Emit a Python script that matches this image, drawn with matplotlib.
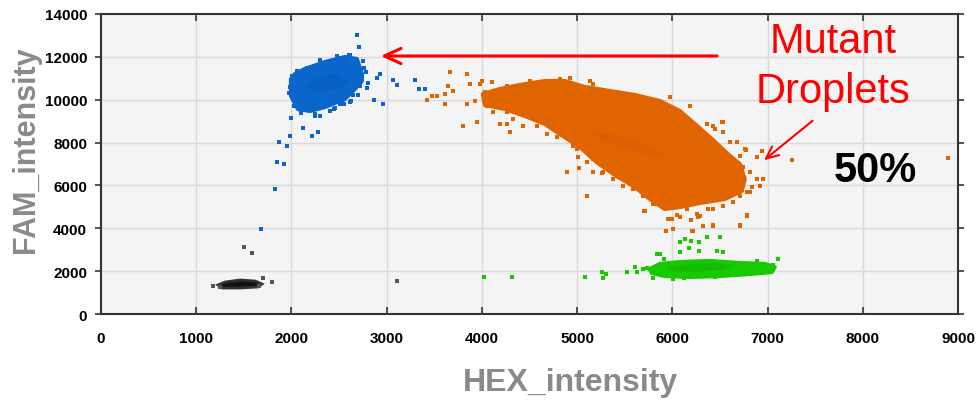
import matplotlib.pyplot as plt

# Droplet clusters (HEX_intensity, FAM_intensity).
# Dense cores are given as outlines, loose droplets as single points.
blue_core_x = [1995, 1995, 2068, 2194, 2351, 2561, 2666, 2740, 2740, 2687, 2561, 2351, 2141, 2036]
blue_core_y = [10967, 10173, 9567, 9473, 9660, 10033, 10500, 10873, 11200, 11900, 11993, 11760, 11433, 11200]
blue_dark_x = [2150, 2300, 2500, 2600, 2450, 2250]
blue_dark_y = [10600, 10350, 10500, 10900, 11250, 11000]
blue_x = [1995, 2120, 2215, 2278, 1984, 1869, 1953, 1848, 1921, 1827, 2247, 2299, 2687, 2708,
          2614, 2750, 2897, 2929, 3065, 3107, 3296, 3338, 3401, 2866, 2960, 2792, 2698, 2614,
          2509, 2456, 2005, 1680, 2030, 2100, 2400, 2550, 2650, 2720, 2760, 1980, 1975, 2060,
          2160, 2300, 2480, 2600, 2780, 2800, 2620, 2450, 2250]
blue_y = [9147, 8680, 8307, 8493, 8307, 8027, 7840, 7093, 7000, 5833, 9240, 9240, 13020, 12460,
          12087, 11807, 11013, 11200, 10920, 10687, 10920, 10500, 10500, 9987, 9800, 10547, 10220,
          9893, 9800, 9613, 11107, 3967, 9700, 9400, 9450, 9800, 10200, 10650, 11500, 10600, 10300,
          11350, 11500, 11850, 12050, 12100, 11300, 10800, 9950, 9550, 9350]

orange_core_x = [4010, 4189, 4399, 4661, 4871, 5081, 5343, 5606, 5868, 6078, 6236, 6414, 6582,
                 6708, 6760, 6729, 6551, 6288, 6078, 5921, 5763, 5606, 5396, 5217, 5028, 4818,
                 4661, 4451, 4241, 4031]
orange_core_y = [10267, 10500, 10687, 10873, 10873, 10593, 10407, 10220, 9940, 9473, 8867, 8167,
                 7467, 7000, 6300, 5740, 5367, 5180, 4993, 4900, 5367, 5927, 6487, 7047, 7793,
                 8400, 8867, 9240, 9567, 9753]
orange_dark_x = [5150, 5450, 5750, 5950, 5800, 5500, 5250]
orange_dark_y = [8500, 8300, 7850, 7400, 7350, 7750, 8100]
orange_x = [3664, 3842, 3643, 3695, 3611, 3422, 3475, 3527, 3611, 3800, 3947, 3874, 3979, 4105,
            4000, 4189, 4262, 4294, 3842, 3926, 4892, 5018, 5165, 5259, 5102, 6939, 6886, 6886,
            6949, 6918, 6771, 6677, 6530, 6362, 6183, 6446, 5711, 5931, 6708, 6781, 6813, 6425,
            6320, 6267, 6078, 5994, 5816, 7254, 8891, 6215, 6005, 5700, 6204, 6425, 6708, 6781,
            5952, 6047, 6194, 6288, 6372, 4031, 4084, 4157, 4189, 4262, 4325, 4399, 4503, 4577,
            4640, 4734, 4818, 4923, 5133, 5165, 4052, 4115, 4262, 4325, 4430, 4577, 4682, 4787,
            4892, 4955, 4997, 5007, 5112, 5165, 5973, 5847, 6425, 6519, 6530, 6603, 6761, 6708,
            6740, 6813, 6834, 6781, 6708, 6635, 6530, 6425, 6257, 6152, 6047, 5942, 5795, 5690,
            5585, 5480, 5375, 5270, 5102]
orange_y = [11293, 11200, 10640, 10407, 10267, 9987, 10173, 10173, 9800, 8773, 8960, 10733, 10733,
            10827, 10873, 8867, 8867, 8493, 9800, 9940, 6627, 6813, 6627, 6580, 5507, 7607, 7327,
            6300, 6300, 5973, 7653, 8027, 8960, 8867, 9707, 8633, 4807, 3873, 4107, 4573, 5693,
            4107, 4107, 4527, 4527, 4433, 5133, 7187, 7280, 3873, 3967, 4807, 3873, 4153, 4153,
            4620, 4433, 4620, 4387, 4573, 4900, 10360, 10173, 10033, 10267, 10640, 10360, 10593,
            10873, 10640, 10733, 10827, 10967, 11013, 10873, 10733, 9707, 9427, 9427, 9100, 8773,
            8773, 8400, 8260, 8213, 7840, 7700, 7327, 7560, 7233, 10127, 9567, 8773, 8960, 8493,
            8027, 7700, 7373, 6860, 6627, 5927, 5693, 5507, 5227, 5040, 4900, 4667, 4900, 5040,
            5227, 5133, 5507, 5833, 5973, 6300, 6627, 7093]

green_core_x = [5763, 5868, 6078, 6393, 6708, 6970, 7075, 7044, 6813, 6498, 6183, 5921, 5784]
green_core_y = [2100, 2333, 2427, 2473, 2380, 2333, 2193, 1960, 1867, 1773, 1727, 1773, 1913]
green_dark_x = [5950, 6150, 6450, 6650, 6500, 6200, 6000]
green_dark_y = [2150, 2330, 2380, 2250, 2050, 1950, 2000]
green_x = [4314, 5081, 5259, 5270, 5301, 5522, 5606, 5627, 5690, 5732, 5795, 5837, 5868, 5910,
           6078, 6131, 6194, 6278, 6362, 6498, 6078, 6173, 6278, 6467, 6530, 6005, 6120, 6446,
           6687, 6886, 6918, 6991, 7054, 7107, 6949, 4021]
green_y = [1727, 1727, 1960, 1680, 1867, 1960, 2193, 1960, 2100, 2147, 1680, 2800, 2800, 2567,
           3360, 3500, 3407, 3360, 3593, 3593, 2893, 3080, 2940, 2940, 2893, 1633, 1680, 1727,
           1820, 2473, 2193, 2193, 2287, 2567, 2007, 1727]

black_core_x = [1228, 1302, 1459, 1617, 1690, 1648, 1459, 1270]
black_core_y = [1353, 1493, 1587, 1540, 1400, 1260, 1213, 1213]
black_x = [1176, 1700, 1795, 1501, 1585, 3107, 1250, 1660]
black_y = [1307, 1680, 1493, 3127, 2847, 1540, 1280, 1330]

x_ticks = [0, 1000, 2000, 3000, 4000, 5000, 6000, 7000, 8000, 9000]
y_ticks = [0, 2000, 4000, 6000, 8000, 10000, 12000, 14000]

fig = plt.figure(figsize=(9.77, 4.02), dpi=100)
ax = fig.add_axes([0.1034, 0.2164, 0.8772, 0.7463])
ax.set_facecolor('#f4f4f4')

groups = [
    (blue_core_x, blue_core_y, blue_dark_x, blue_dark_y, blue_x, blue_y, '#0a66cc', '#0052a8'),
    (orange_core_x, orange_core_y, orange_dark_x, orange_dark_y, orange_x, orange_y, '#e06400', '#c85800'),
    (green_core_x, green_core_y, green_dark_x, green_dark_y, green_x, green_y, '#18c800', '#0e9e00'),
]
for cx, cy, dx, dy, px, py, col, dark in groups:
    ax.fill(cx, cy, color=col, lw=3, joinstyle='round', zorder=3)
    ax.fill(dx, dy, color=dark, lw=0, alpha=0.25, zorder=3)
    ax.scatter(px, py, s=7, marker='s', color=col, linewidths=0, zorder=4)

ax.fill(black_core_x, black_core_y, color='#111111', lw=2, ec='#333333', zorder=3)
ax.scatter(black_x, black_y, s=7, marker='s', color='#555555', linewidths=0, zorder=4)

ax.set_xlim(0, 9000)
ax.set_ylim(0, 14000)
ax.set_xticks(x_ticks)
ax.set_yticks(y_ticks)
ax.grid(color='#d9d9d9', lw=1)
ax.set_axisbelow(True)
for sp in ax.spines.values():
    sp.set_color('#333333')
    sp.set_linewidth(1.5)

ax.tick_params(axis='x', direction='in', length=5, width=1.2, color='#333333', top=True, pad=12)
ax.tick_params(axis='y', direction='out', length=4, width=1.2, color='#333333', right=True, pad=6)
for lab in ax.get_xticklabels() + ax.get_yticklabels():
    lab.set_fontfamily('Liberation Sans')
    lab.set_fontweight('bold')
    lab.set_fontsize(11)

ax.set_xlabel('HEX_intensity', family=['Liberation Sans Narrow', 'Liberation Sans'],
              fontweight='bold', fontsize=23, color='#8a8a8a')
ax.xaxis.set_label_coords(0.548, -0.175)
ax.set_ylabel('FAM_intensity', family=['Liberation Sans Narrow', 'Liberation Sans'],
              fontweight='bold', fontsize=22, color='#8a8a8a')
ax.yaxis.set_label_coords(-0.07, 0.55)

# annotations
ax.annotate('', xy=(2908, 12040), xytext=(6498, 12040),
            arrowprops=dict(arrowstyle='->,head_length=1.2,head_width=0.55', color='#ff0000', lw=2.2),
            zorder=6)
ax.annotate('', xy=(6939, 7093), xytext=(7495, 9100),
            arrowprops=dict(arrowstyle='->,head_length=0.9,head_width=0.4', color='#ff0000', lw=1.5),
            zorder=6)
ax.text(7684, 12227, 'Mutant', color='#ff0000', fontsize=30, family='Liberation Sans',
        ha='center', va='baseline', zorder=6)
ax.text(7684, 9893, 'Droplets', color='#ff0000', fontsize=30, family='Liberation Sans',
        ha='center', va='baseline', zorder=6)
ax.text(8136, 6207, '50%', color='black', fontsize=30, fontweight='bold', family='Liberation Sans',
        ha='center', va='baseline', zorder=6)

fig.savefig('out.png', dpi=100)
